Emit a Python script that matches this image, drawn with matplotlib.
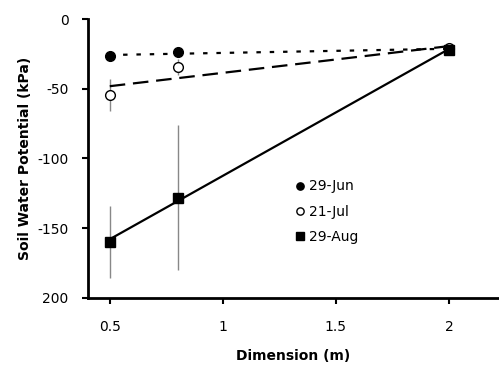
import numpy as np
import matplotlib.pyplot as plt

# soil water potential (kPa) by dimension (m)
dimension = [0.5, 0.8, 2.0]
jun = [-26.5, -24.0, -21.5]
jul = [-54.5, -34.5, -21.0]
jul_err = [11.5, 5.5, 0.0]
aug = [-160.0, -128.0, -22.0]
aug_err = [26.0, 52.0, 0.0]
y_ticks = [0, -50, -100, -150, -200]
y_labels = ['0', '-50', '-100', '-150', '200']

fig = plt.figure(figsize=(4.99, 3.66), dpi=100)
ax = fig.add_axes([0.176, 0.186, 0.824, 0.762])

x = np.array(dimension)
xs = np.array([0.5, 2.0])

# error bars
ax.errorbar(x, jul, yerr=jul_err, fmt='none', ecolor='#888888', elinewidth=1, capsize=0)
ax.errorbar(x, aug, yerr=aug_err, fmt='none', ecolor='#888888', elinewidth=1, capsize=0)

# linear trend lines
for vals, ls in [(jun, (0, (2, 4))), (jul, (0, (7, 3.5))), (aug, '-')]:
    m, b = np.polyfit(x, vals, 1)
    ax.plot(xs, m * xs + b, color='black', linestyle=ls, linewidth=1.6)

ax.plot(x, jun, 'o', color='black', markersize=7, label='29-Jun')
ax.plot(x, jul, 'o', markerfacecolor='white', markeredgecolor='black',
        markersize=7, markeredgewidth=1, label='21-Jul')
ax.plot(x, aug, 's', color='black', markersize=7, label='29-Aug')

ax.set_xlim(0.403, 2.221)
ax.set_ylim(-200, 0)
ax.set_xticks([0.5, 1, 1.5, 2])
ax.set_xticklabels(['0.5', '1', '1.5', '2'])
ax.set_yticks(y_ticks)
ax.set_yticklabels(y_labels)
ax.tick_params(labelsize=10, length=4, width=1.5)
ax.tick_params(axis='x', pad=12)
ax.tick_params(axis='y', pad=10)

ax.spines['top'].set_visible(False)
ax.spines['right'].set_visible(False)
ax.spines['left'].set_linewidth(2)
ax.spines['bottom'].set_linewidth(2)

ax.set_xlabel('Dimension (m)', fontsize=10, fontweight='bold', labelpad=11)
ax.set_ylabel('Soil Water Potential (kPa)', fontsize=10, fontweight='bold', labelpad=4)

ax.legend(loc='upper left', bbox_to_anchor=(0.5, 0.425), frameon=False,
          fontsize=10, handletextpad=0.1, handlelength=1, labelspacing=0.8,
          markerscale=0.75, borderaxespad=0, borderpad=0)

fig.savefig('out.png', dpi=100)
